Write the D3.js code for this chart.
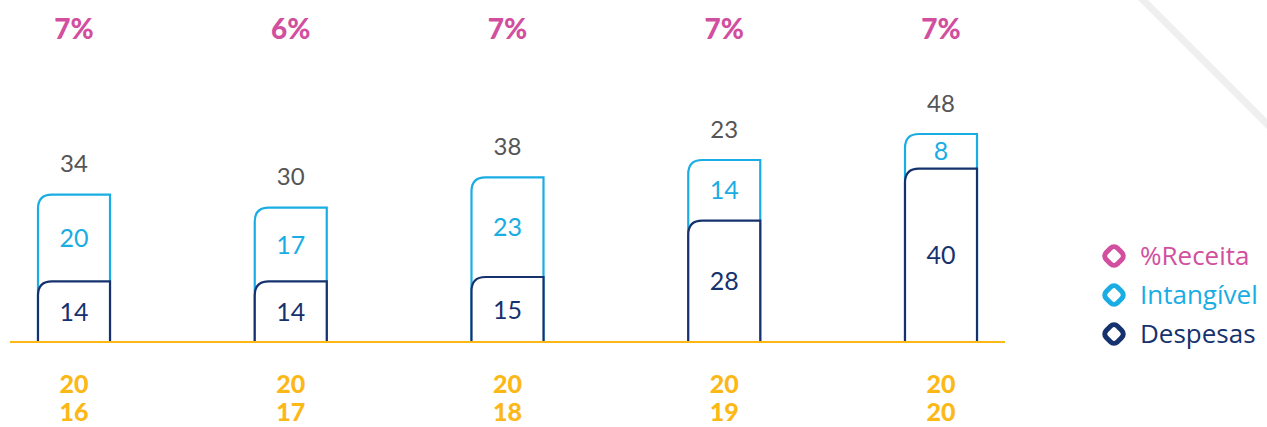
<!DOCTYPE html>
<html>
<head>
<meta charset="utf-8">
<script src="https://cdn.jsdelivr.net/npm/d3@7"></script>
<style>
  body { margin: 0; background: #fff; }
  text { font-family: Lato, "Noto Sans", sans-serif; }
  .pct { font-weight: 900; font-size: 28px; fill: #d14f9e; }
  .year { font-weight: 900; font-size: 25px; fill: #fbb817; }
  .total { font-size: 24px; fill: #555; }
  .val { font-size: 25px; }
  .legend { font-family: "Open Sans", sans-serif; font-size: 26px; }
</style>
</head>
<body>
<div id="chart"></div>
<script>
// data
let years = ["2016", "2017", "2018", "2019", "2020"]
let despesas = [14, 14, 15, 28, 40]
let intangivel = [20, 17, 23, 14, 8]
let totalLabels = ["34", "30", "38", "23", "48"]
let receita = ["7%", "6%", "7%", "7%", "7%"]
let legendItems = ["%Receita", "Intangível", "Despesas"]

let totalWidth = 1267
let totalHeight = 427
let baseline = 342
let barWidth = 72
let radius = 14

let colors = {pink: "#d14f9e", blue: "#19ade4", navy: "#15326e", gold: "#fbb817"}

let svg = d3.select("#chart").append("svg")
    .attr("width", totalWidth)
    .attr("height", totalHeight)

// background diagonal stroke
svg.append("line")
    .attr("x1", 1140).attr("y1", -3)
    .attr("x2", 1270).attr("y2", 127)
    .attr("stroke", "#efefef")
    .attr("stroke-width", 7)

const xScale = d3.scalePoint()
    .domain(years)
    .range([74, 941])

const yScale = d3.scaleLinear()
    .domain([0, 48])
    .range([baseline, 134])

let data = years.map((y, i) => ({
    year: y,
    desp: despesas[i],
    intang: intangivel[i],
    total: totalLabels[i],
    pct: receita[i]
}))

// open-bottom box with rounded top-left corner
function boxPath(x0, x1, yTop, yBottom) {
    return `M${x0},${yBottom} L${x0},${yTop + radius} Q${x0},${yTop} ${x0 + radius},${yTop} L${x1},${yTop} L${x1},${yBottom}`
}

let bars = svg.selectAll("g.bar")
    .data(data)
    .enter()
    .append("g")
    .attr("class", "bar")

bars.append("path")
    .attr("d", d => boxPath(xScale(d.year) - barWidth / 2, xScale(d.year) + barWidth / 2,
        yScale(d.desp + d.intang), baseline))
    .attr("fill", "#fff")
    .attr("stroke", colors.blue)
    .attr("stroke-width", 2.2)

bars.append("path")
    .attr("d", d => boxPath(xScale(d.year) - barWidth / 2, xScale(d.year) + barWidth / 2,
        yScale(d.desp), baseline))
    .attr("fill", "#fff")
    .attr("stroke", colors.navy)
    .attr("stroke-width", 2.2)

// value labels
bars.append("text")
    .attr("class", "val")
    .attr("x", d => xScale(d.year))
    .attr("y", d => (yScale(d.desp) + yScale(d.desp + d.intang)) / 2)
    .attr("dy", "0.36em")
    .attr("text-anchor", "middle")
    .attr("fill", colors.blue)
    .text(d => d.intang)

bars.append("text")
    .attr("class", "val")
    .attr("x", d => xScale(d.year))
    .attr("y", d => (yScale(d.desp) + baseline) / 2)
    .attr("dy", "0.36em")
    .attr("text-anchor", "middle")
    .attr("fill", colors.navy)
    .text(d => d.desp)

bars.append("text")
    .attr("class", "total")
    .attr("x", d => xScale(d.year))
    .attr("y", d => yScale(d.desp + d.intang) - 31)
    .attr("dy", "0.36em")
    .attr("text-anchor", "middle")
    .text(d => d.total)

bars.append("text")
    .attr("class", "pct")
    .attr("x", d => xScale(d.year))
    .attr("y", 29)
    .attr("dy", "0.36em")
    .attr("text-anchor", "middle")
    .text(d => d.pct)

// years split in two lines
let yearText = bars.append("text")
    .attr("class", "year")
    .attr("text-anchor", "middle")
yearText.append("tspan")
    .attr("x", d => xScale(d.year))
    .attr("y", 393)
    .text(d => d.year.slice(0, 2))
yearText.append("tspan")
    .attr("x", d => xScale(d.year))
    .attr("y", 421)
    .text(d => d.year.slice(2))

// baseline
svg.append("line")
    .attr("x1", 10).attr("x2", 1005)
    .attr("y1", baseline).attr("y2", baseline)
    .attr("stroke", colors.gold)
    .attr("stroke-width", 2)

// legend
let legendColors = [colors.pink, colors.blue, colors.navy]
let legend = svg.selectAll("g.legend")
    .data(legendItems)
    .enter()
    .append("g")
    .attr("transform", (d, i) => `translate(1114,${256 + i * 39})`)

legend.append("rect")
    .attr("x", -8).attr("y", -8)
    .attr("width", 16).attr("height", 16)
    .attr("rx", 5)
    .attr("transform", "rotate(45)")
    .attr("fill", "none")
    .attr("stroke", (d, i) => legendColors[i])
    .attr("stroke-width", 5)

legend.append("text")
    .attr("class", "legend")
    .attr("x", 26)
    .attr("dy", "0.36em")
    .attr("fill", (d, i) => legendColors[i])
    .text(d => d)
</script>
</body>
</html>
